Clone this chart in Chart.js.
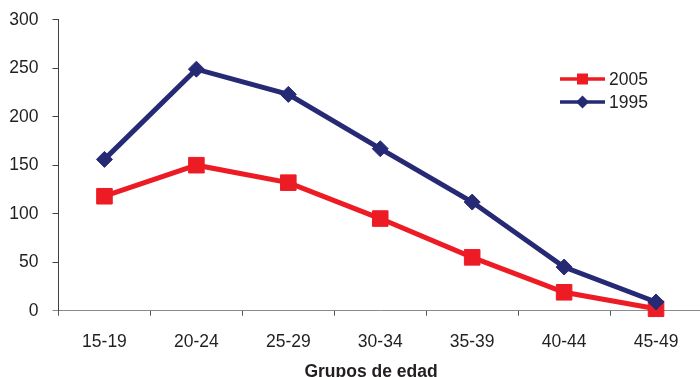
<!DOCTYPE html>
<html>
<head>
<meta charset="utf-8">
<script src="https://cdn.jsdelivr.net/npm/chart.js@4.4.1/dist/chart.umd.min.js"></script>
<style>
html, body { margin: 0; padding: 0; overflow: hidden; background: #fff; }
#wrap { width: 702px; height: 377px; position: relative; }
</style>
</head>
<body>
<div id="wrap"><canvas id="c"></canvas></div>
<script>
const categories = ['15-19', '20-24', '25-29', '30-34', '35-39', '40-44', '45-49'];
const values2005 = [118, 150, 132, 95, 55, 19, 2];
const values1995 = [156, 249, 223, 167, 112, 45, 9];
const seriesNames = ['2005', '1995'];
const yTicks = { min: 0, max: 300, step: 50 };
const xTitle = 'Grupos de edad';

const RED = '#ED1C24';
const NAVY = '#262A75';
const TXT = '#231F20';
const FONT = '"Liberation Sans", Arial, sans-serif';

const overlay = {
  id: 'overlay',
  afterDraw(chart) {
    const ctx = chart.ctx;
    ctx.save();
    ctx.fillStyle = TXT;
    ctx.font = 'bold 17.5px ' + FONT;
    ctx.textAlign = 'center';
    ctx.textBaseline = 'alphabetic';
    ctx.fillText(xTitle, 371, 377);
    const rows = [
      { name: seriesNames[0], color: RED, y: 79, shape: 'square' },
      { name: seriesNames[1], color: NAVY, y: 102, shape: 'diamond' }
    ];
    rows.forEach(r => {
      ctx.strokeStyle = r.color;
      ctx.lineWidth = 3.5;
      ctx.beginPath();
      ctx.moveTo(560, r.y);
      ctx.lineTo(605, r.y);
      ctx.stroke();
      ctx.fillStyle = r.color;
      ctx.beginPath();
      if (r.shape === 'square') {
        ctx.rect(582.5 - 5.5, r.y - 5.5, 11, 11);
      } else {
        ctx.moveTo(582.5, r.y - 6.5);
        ctx.lineTo(589, r.y);
        ctx.lineTo(582.5, r.y + 6.5);
        ctx.lineTo(576, r.y);
        ctx.closePath();
      }
      ctx.fill();
      ctx.fillStyle = TXT;
      ctx.font = '17.5px ' + FONT;
      ctx.textAlign = 'left';
      ctx.textBaseline = 'middle';
      ctx.fillText(r.name, 609, r.y + 1);
    });
    ctx.restore();
  }
};

new Chart(document.getElementById('c'), {
  type: 'line',
  data: {
    labels: categories,
    datasets: [
      {
        label: seriesNames[0],
        data: values2005,
        borderColor: RED,
        backgroundColor: RED,
        borderWidth: 5,
        pointStyle: 'rect',
        pointRadius: 11,
        pointBorderWidth: 1,
        pointBackgroundColor: RED,
        pointBorderColor: RED,
        tension: 0,
        clip: false,
        order: 1
      },
      {
        label: seriesNames[1],
        data: values1995,
        borderColor: NAVY,
        backgroundColor: NAVY,
        borderWidth: 5,
        pointStyle: 'rectRot',
        pointRadius: 8,
        pointBorderWidth: 1,
        pointBackgroundColor: NAVY,
        pointBorderColor: NAVY,
        tension: 0,
        clip: false,
        order: 0
      }
    ]
  },
  options: {
    responsive: true,
    maintainAspectRatio: false,
    animation: false,
    layout: { autoPadding: false, padding: { top: 19.7, right: 0, bottom: 0, left: 0 } },
    plugins: {
      legend: { display: false },
      tooltip: { enabled: false },
      title: { display: false }
    },
    scales: {
      x: {
        type: 'category',
        offset: true,
        grid: {
          offset: true,
          drawOnChartArea: false,
          drawTicks: true,
          tickLength: 5,
          color: '#555'
        },
        border: { display: true, color: '#8A8A8A', width: 1 },
        ticks: {
          color: TXT,
          font: { family: FONT, size: 17.5 },
          padding: 16,
          maxRotation: 0,
          autoSkip: false
        },
        afterFit(scale) { scale.height = 66.3; scale.paddingLeft = 0; scale.paddingRight = 0; }
      },
      y: {
        min: yTicks.min,
        max: yTicks.max,
        grid: {
          drawOnChartArea: false,
          drawTicks: true,
          tickLength: 6,
          color: ctx => (ctx.tick && ctx.tick.value === 0 ? '#8A8A8A' : '#404040')
        },
        border: { display: true, color: '#404040', width: 1 },
        ticks: {
          stepSize: yTicks.step,
          color: TXT,
          font: { family: FONT, size: 17.5 },
          padding: 14
        },
        afterFit(scale) { scale.width = 58.5; scale.paddingTop = 0; scale.paddingBottom = 0; }
      }
    }
  },
  plugins: [overlay]
});
</script>
</body>
</html>
